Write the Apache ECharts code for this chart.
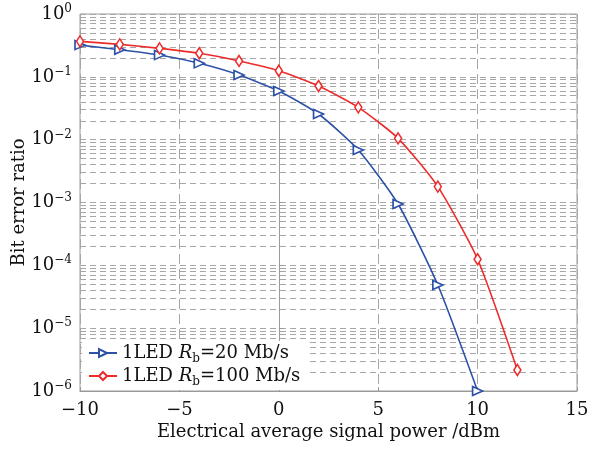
<!DOCTYPE html>
<html>
<head>
<meta charset="utf-8">
<script src="https://cdn.jsdelivr.net/npm/echarts@6/dist/echarts.min.js"></script>
<style>
  html, body { margin: 0; padding: 0; background: #fff; }
  #chart { width: 604px; height: 449px; }
</style>
</head>
<body>
<div id="chart"></div>
<script>
// Electrical average signal power (dBm) and measured bit error ratio
const power20 = [-10, -8, -6, -4, -2, 0, 2, 4, 6, 8, 10];
const ber20 = [0.32, 0.27, 0.222, 0.164, 0.107, 0.0595, 0.0256, 0.00685, 0.000946, 4.86e-5, 1e-6];

const power100 = [-10, -8, -6, -4, -2, 0, 2, 4, 6, 8, 10, 12];
const ber100 = [0.367, 0.329, 0.284, 0.237, 0.179, 0.125, 0.0715, 0.0327, 0.0105, 0.00179, 1.25e-4, 2.16e-6];

const seriesNames = ['1LED Rb=20 Mb/s', '1LED Rb=100 Mb/s'];
const legendRates = ['20', '100'];

const xTicks = [-10, -5, 0, 5, 10, 15];
const yExponents = [-6, -5, -4, -3, -2, -1, 0];

const FONT = 'DejaVu Serif';
const BLUE = '#2d51a8';
const RED = '#ee2b2b';
const GRID = '#a6a6a6';

const xMin = xTicks[0];
const xMax = xTicks[xTicks.length - 1];

// minor log grid: 2..9 x 10^k for every decade, drawn as horizontal segments
const minorGrid = [];
for (let k = yExponents[0]; k < yExponents[yExponents.length - 1]; k++) {
  for (let m = 2; m <= 9; m++) {
    const v = m * Math.pow(10, k);
    minorGrid.push({ coords: [[xMin, v], [xMax, v]] });
  }
}

const pairs = (xs, ys) => xs.map((x, i) => [x, ys[i]]);
const minus = s => String(s).replace('-', '\u2212');

const chart = echarts.init(document.getElementById('chart'), null, { renderer: 'canvas' });

chart.setOption({
  backgroundColor: '#fff',
  animation: false,
  grid: {
    left: 80, right: 27, top: 14, bottom: 58,
    containLabel: false, outerBoundsMode: 'none',
    show: true, borderColor: '#9a9a9a', borderWidth: 1, backgroundColor: 'transparent'
  },
  xAxis: {
    type: 'value',
    min: xMin, max: xMax, interval: 5,
    name: 'Electrical average signal power /dBm',
    nameLocation: 'middle', nameGap: 32, nameMoveOverlap: false,
    nameTextStyle: { fontFamily: FONT, fontSize: 18, color: '#111' },
    axisLine: { show: true, lineStyle: { color: '#9a9a9a' } },
    axisTick: { show: true, inside: true, length: 4, lineStyle: { color: '#9a9a9a' } },
    axisLabel: {
      fontFamily: FONT, fontSize: 18, color: '#111', margin: 10,
      formatter: v => minus(v)
    },
    splitLine: { show: true, lineStyle: { color: GRID, type: [10, 5], width: 1 } }
  },
  yAxis: {
    type: 'log', logBase: 10,
    min: Math.pow(10, yExponents[0]), max: Math.pow(10, yExponents[yExponents.length - 1]),
    name: 'Bit error ratio',
    nameLocation: 'middle', nameGap: 52, nameMoveOverlap: false,
    nameTextStyle: { fontFamily: FONT, fontSize: 18, color: '#111' },
    axisLine: { show: true, lineStyle: { color: '#9a9a9a' } },
    axisTick: { show: true, inside: true, length: 4, lineStyle: { color: '#9a9a9a' } },
    axisLabel: {
      margin: 8,
      formatter: v => {
        const e = Math.round(Math.log10(v));
        return '{b|10}{s|' + minus(e) + '}';
      },
      rich: {
        b: { fontFamily: FONT, fontSize: 18, color: '#111', lineHeight: 22 },
        s: { fontFamily: FONT, fontSize: 12, color: '#111', verticalAlign: 'top', lineHeight: 22 }
      }
    },
    splitLine: { show: true, lineStyle: { color: GRID, type: [6, 4], width: 1 } }
  },
  legend: {
    data: seriesNames,
    orient: 'vertical',
    left: 82, top: 341,
    backgroundColor: '#fff',
    padding: [3, 6, 2, 6],
    itemGap: 2,
    itemWidth: 28, itemHeight: 10,
    formatter: name => {
      const rate = legendRates[seriesNames.indexOf(name)];
      return '{t|1LED }{i|R}{s|b}{t|=' + rate + ' Mb/s}';
    },
    textStyle: {
      rich: {
        t: { fontFamily: FONT, fontSize: 18, color: '#111', lineHeight: 22 },
        i: { fontFamily: FONT, fontSize: 18, fontStyle: 'italic', color: '#111', lineHeight: 22 },
        s: { fontFamily: FONT, fontSize: 12, color: '#111', verticalAlign: 'bottom', lineHeight: 24 }
      }
    }
  },
  series: [
    {
      name: 'minor grid',
      type: 'lines',
      coordinateSystem: 'cartesian2d',
      data: minorGrid,
      z: 1,
      silent: true,
      symbol: 'none',
      lineStyle: { color: GRID, type: [6, 4], width: 1, opacity: 1 }
    },
    {
      name: seriesNames[0],
      type: 'line',
      data: pairs(power20, ber20),
      smooth: 0.2,
      z: 3,
      symbol: 'triangle',
      symbolSize: [9, 10],
      symbolRotate: -90,
      lineStyle: { color: BLUE, width: 1.6 },
      itemStyle: { color: '#fff', borderColor: BLUE, borderWidth: 1.6 }
    },
    {
      name: seriesNames[1],
      type: 'line',
      data: pairs(power100, ber100),
      smooth: 0.2,
      z: 3,
      symbol: 'diamond',
      symbolSize: [7, 11],
      lineStyle: { color: RED, width: 1.6 },
      itemStyle: { color: '#fff', borderColor: RED, borderWidth: 1.6 }
    }
  ]
});
</script>
</body>
</html>
